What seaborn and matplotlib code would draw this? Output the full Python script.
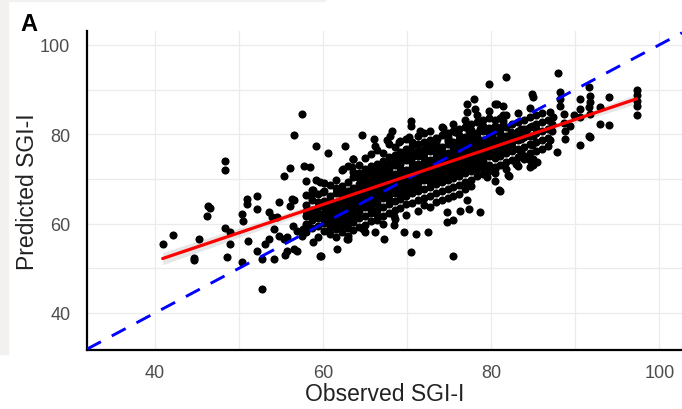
import matplotlib
matplotlib.use("Agg")
import matplotlib.pyplot as plt
from matplotlib.patches import Rectangle
from matplotlib.ticker import MultipleLocator
import seaborn as sns
import pandas as pd

# ---- data ----
# dense core: observed value columns and predicted values in each column
core_obs = [58.0, 58.7, 59.4, 60.1, 60.8, 61.5, 62.2, 62.9, 63.6, 64.3, 65.0, 65.7,
            66.4, 67.1, 67.8, 68.5, 69.2, 69.9, 70.6, 71.3, 72.0, 72.7, 73.4, 74.1,
            74.8, 75.5, 76.2, 76.9, 77.6, 78.3, 79.0, 79.7, 80.4, 81.1, 81.8, 82.5,
            83.2, 83.9, 84.6, 85.3, 86.0, 86.7]
core_pred = [
    [61.6, 59.8, 64.1, 58.2, 66.3, 62.9],
    [63.0, 60.7, 58.9, 65.2, 62.1, 67.4],
    [63.6, 61.3, 59.5, 62.4, 56.9, 66.7, 64.8],
    [65.1, 62.4, 60.2, 58.3, 67.2, 61.4, 63.7, 69.1],
    [63.9, 61.8, 59.3, 66.1, 57.6, 68.7, 60.8, 63.0, 65.3],
    [64.7, 62.6, 61.0, 58.7, 66.9, 69.8, 57.1, 63.8, 68.0, 60.1],
    [65.8, 63.4, 61.7, 59.6, 68.3, 58.2, 64.6, 71.9, 60.6, 67.0, 62.5],
    [65.0, 62.9, 61.4, 67.3, 59.1, 69.3, 64.1, 57.3, 72.8, 66.2, 60.3],
    [66.3, 63.8, 62.1, 67.9, 60.4, 70.4, 65.2, 58.5, 74.4, 64.7, 71.6, 61.2],
    [66.9, 65.0, 62.9, 68.9, 61.2, 71.4, 66.1, 59.2, 73.0, 63.8, 68.1, 70.2, 64.2],
    [67.6, 65.3, 63.6, 69.6, 61.6, 72.2, 66.6, 59.6, 74.6, 58.1, 64.6, 70.9, 68.3],
    [68.2, 66.3, 64.2, 70.3, 62.3, 72.9, 67.3, 60.5, 75.5, 65.2, 69.3, 63.1, 71.6],
    [68.9, 67.0, 64.7, 70.9, 63.1, 73.4, 67.9, 60.9, 76.4, 65.9, 72.1, 61.9, 69.8],
    [69.6, 67.6, 65.7, 71.8, 63.7, 74.1, 68.7, 61.7, 75.9, 66.6, 59.8, 72.9, 70.6],
    [70.4, 68.0, 66.3, 72.3, 64.3, 74.9, 69.2, 62.3, 77.7, 67.3, 73.3, 71.2, 65.2],
    [71.0, 68.8, 66.8, 73.0, 65.1, 75.4, 70.0, 63.0, 77.1, 67.9, 61.1, 74.1, 69.5],
    [71.5, 69.3, 67.5, 73.3, 65.6, 76.0, 70.6, 63.5, 78.5, 68.6, 74.5, 66.5, 72.4],
    [72.1, 70.3, 68.1, 74.2, 66.1, 76.6, 71.1, 64.3, 79.0, 69.1, 62.0, 75.3, 67.2],
    [72.7, 70.7, 68.5, 74.8, 66.8, 77.3, 71.7, 64.7, 78.2, 69.7, 75.7, 73.6, 67.6],
    [73.3, 71.2, 69.1, 75.2, 67.2, 77.7, 72.2, 65.3, 79.7, 70.2, 62.7, 76.3, 68.2],
    [73.8, 71.5, 69.7, 75.8, 67.7, 78.3, 72.8, 65.7, 80.2, 70.8, 76.8, 64.1, 74.6],
    [74.3, 72.2, 70.3, 76.3, 68.2, 78.8, 73.2, 66.2, 80.7, 71.3, 63.7, 77.5, 69.4],
    [74.8, 72.7, 70.7, 76.8, 68.8, 79.2, 73.8, 66.8, 78.1, 71.8, 64.8, 75.7, 69.9],
    [75.3, 73.2, 71.2, 77.2, 69.2, 79.8, 74.2, 67.2, 81.7, 72.2, 65.2, 76.2, 70.4],
    [75.8, 73.7, 71.7, 77.8, 69.7, 80.2, 74.7, 67.7, 79.3, 72.7, 65.7, 78.5, 70.9],
    [76.3, 74.2, 72.2, 78.2, 70.2, 80.8, 75.2, 68.2, 82.2, 73.3, 66.2, 77.2, 71.2],
    [76.8, 74.8, 72.7, 78.7, 70.7, 81.2, 75.8, 68.7, 79.8, 73.8, 66.7, 77.9, 71.9],
    [77.3, 75.2, 73.3, 79.3, 71.3, 81.7, 76.3, 69.3, 83.2, 74.3, 67.7, 78.3, 72.4],
    [77.8, 75.7, 73.8, 79.8, 71.8, 82.2, 76.8, 69.8, 80.9, 74.8, 68.3, 78.9, 72.9],
    [78.2, 76.3, 74.2, 80.3, 72.2, 82.8, 77.3, 70.7, 84.3, 75.3, 79.3, 73.4],
    [78.8, 76.7, 74.8, 80.8, 72.7, 83.2, 77.8, 71.2, 75.7, 81.9, 73.9],
    [79.3, 77.2, 75.2, 81.3, 73.2, 83.7, 78.3, 71.8, 85.2, 76.3, 80.2],
    [78.8, 76.7, 74.7, 80.8, 72.7, 83.2, 77.8, 71.3, 75.8, 81.9],
    [79.2, 77.3, 75.2, 81.2, 73.2, 83.7, 78.3, 76.3, 80.2],
    [79.7, 77.7, 75.8, 81.7, 73.8, 84.3, 78.8, 72.3, 76.8],
    [80.2, 78.2, 76.2, 82.3, 74.3, 79.3, 77.2],
    [80.7, 78.8, 76.7, 82.8, 74.8, 84.7, 79.7, 72.8],
    [81.2, 79.3, 77.2, 83.2, 75.2, 80.2],
    [81.7, 79.7, 77.8, 83.8, 75.8, 85.8, 74.3],
    [82.2, 80.2, 78.2, 84.3, 76.3, 81.1],
    [82.7, 80.7, 78.7, 84.8, 76.8],
    [83.2, 81.2, 79.2, 77.3],
]

# scattered points outside the core
sparse_obs = [
    40.9, 42.1, 45.2, 44.6, 44.6, 46.3, 46.5, 46.2, 48.3, 48.9, 48.9, 48.5, 50.3, 50.5,
    51.1, 50.3, 52.7, 52.1, 50.9, 52.1, 52.7, 53.1, 53.5, 53.9, 54.5, 54.7, 56.1, 56.5,
    54.1, 53.5, 54.1, 54.7, 55.3, 55.7, 55.7, 56.5, 56.9, 55.5, 56.4, 56.9, 57.5, 57.6,
    58.2, 59.6, 58.8,
    48.3, 48.3, 57.5, 56.5, 59.1, 60.6, 56.1, 57.7, 58.4, 55.3, 58.0, 59.2, 59.6, 58.8,
    60.0, 58.5, 50.9, 52.1, 56.3,
    79.7, 77.9, 77.1, 77.1, 78.1, 80.5, 70.4, 70.5, 71.7, 68.2, 64.6, 62.6, 62.4, 63.6,
    63.4, 66.0, 66.2, 67.6, 68.0, 69.0, 70.2, 74.3, 75.7, 77.3, 78.7, 73.5, 74.9, 81.7,
    71.5,
    88.0, 84.8, 85.0, 88.2, 88.2, 90.6, 91.6, 91.7, 94.0, 97.3, 97.3, 97.3, 97.3, 97.3,
    90.6, 91.6, 91.8, 93.0, 87.0, 87.4, 87.2, 88.2, 88.6, 93.0, 94.0, 91.6, 90.6, 87.8,
    87.0, 89.8, 90.6, 89.4, 81.4, 81.4, 81.4, 87.2, 88.6, 88.8, 88.8, 91.8, 91.8, 80.7,
    81.3, 80.1, 81.1, 82.3, 83.5, 83.6, 84.2, 84.8, 85.0, 84.8, 82.3, 83.5, 83.9, 85.0,
    85.0, 83.0,
    80.5, 81.5, 83.0, 84.6, 85.4, 80.5, 82.1, 81.1, 82.0, 79.5, 80.9,
    70.5, 75.5, 69.6, 71.0, 72.5, 67.2, 66.2, 64.8, 68.4, 63.0, 59.8, 61.6, 74.7, 75.5,
    76.3, 77.3, 78.7, 77.1, 74.7, 62.8, 68.4,
]
sparse_pred = [
    55.4, 57.5, 56.6, 52.4, 51.9, 64.0, 63.4, 61.7, 59.0, 58.1, 55.4, 52.5, 62.1, 60.6,
    56.2, 51.3, 45.4, 63.3, 64.4, 53.9, 52.1, 55.4, 62.5, 61.4, 61.4, 64.8, 64.0, 65.2,
    58.8, 56.6, 52.1, 57.3, 56.6, 57.0, 53.9, 54.3, 53.9, 53.0, 59.5, 58.4, 57.3, 58.8,
    59.5, 52.8, 55.9,
    74.1, 72.1, 84.5, 79.9, 77.3, 75.8, 72.4, 72.8, 72.6, 70.6, 69.5, 69.8, 69.2, 67.6,
    67.0, 66.2, 65.6, 66.1, 65.6,
    91.2, 87.9, 86.8, 84.9, 85.6, 86.8, 83.0, 81.9, 80.4, 80.8, 79.8, 77.4, 72.2, 74.5,
    72.6, 78.9, 77.4, 78.6, 79.7, 78.2, 79.3, 81.3, 80.4, 80.8, 81.2, 79.0, 79.0, 92.7,
    80.8,
    93.7, 89.0, 88.3, 89.4, 87.9, 87.9, 90.5, 88.6, 88.3, 89.8, 88.7, 87.5, 86.4, 84.3,
    85.6, 86.0, 84.5, 86.0, 84.9, 83.8, 82.3, 86.4, 84.5, 82.3, 82.1, 79.7, 77.5, 76.1,
    78.6, 84.2, 83.8, 81.9, 86.4, 84.2, 82.9, 80.8, 82.6, 80.8, 78.9, 79.3, 87.1, 86.8,
    81.9, 79.7, 78.6, 80.4, 81.2, 78.9, 81.2, 81.9, 79.7, 77.5, 76.7, 76.0, 74.5, 74.5,
    73.0, 73.3,
    72.2, 73.0, 73.7, 72.6, 73.7, 69.6, 70.6, 67.2, 70.8, 70.4, 67.4,
    53.6, 52.7, 58.1, 57.7, 58.2, 56.6, 58.1, 58.8, 59.6, 56.6, 52.7, 54.3, 60.3, 60.7,
    62.9, 63.3, 62.5, 65.2, 62.5, 56.6, 61.8,
]

x_ticks = [40, 60, 80, 100]
y_ticks = [40, 60, 80, 100]
x_title = "Observed SGI-I"
y_title = "Predicted SGI-I"
panel_label = "A"

# ---- build table ----
obs = []
pred = []
for xv, ys in zip(core_obs, core_pred):
    for yv in ys:
        obs.append(xv)
        pred.append(yv)
obs += sparse_obs
pred += sparse_pred
df = pd.DataFrame({"observed": obs, "predicted": pred})

# ---- plot ----
sns.set_theme(style="white")
plt.rcParams["font.family"] = ["Liberation Sans", "DejaVu Sans"]

fig = plt.figure(figsize=(6.82, 4.10), dpi=100)
fig.patch.set_facecolor("white")
fig.patches.append(Rectangle((0, 55 / 410), 8 / 682, 1 - 55 / 410,
                             transform=fig.transFigure, color="#f3f0f0", zorder=0))
fig.patches.append(Rectangle((0, 1 - 2 / 410), 325 / 682, 2 / 410,
                             transform=fig.transFigure, color="#f3f0f0", zorder=0))

ax = fig.add_axes([87 / 682, 1 - 351 / 410, 1 - 87 / 682, (351 - 32) / 410])
ax.set_facecolor("white")

sns.scatterplot(data=df, x="observed", y="predicted", ax=ax, color="black",
                s=34, linewidth=0, zorder=3)
ax.axline((40, 40), slope=1, color="#0000ff", lw=2.1, dashes=(5.4, 4.2), zorder=4)
# grey confidence band
sns.regplot(data=df, x="observed", y="predicted", ax=ax, scatter=False,
            color="0.35", line_kws=dict(alpha=0), ci=95)
# red fitted line
sns.regplot(data=df, x="observed", y="predicted", ax=ax, scatter=False,
            ci=None, color="#ff0000", line_kws=dict(lw=2.3, zorder=5))

ax.set_xlim(31.9, 102.7)
ax.set_ylim(31.7, 103.1)
ax.set_xticks(x_ticks)
ax.set_yticks(y_ticks)
ax.xaxis.set_minor_locator(MultipleLocator(10))
ax.yaxis.set_minor_locator(MultipleLocator(10))
ax.grid(True, which="both", color="#ebebeb", lw=0.9, zorder=0)
ax.set_axisbelow(True)

for s in ["top", "right"]:
    ax.spines[s].set_visible(False)
for s in ["left", "bottom"]:
    ax.spines[s].set_color("black")
    ax.spines[s].set_linewidth(1.6)

ax.tick_params(axis="both", which="major", length=7.5, width=1.2, color="#333333",
               labelsize=13, labelcolor="#4d4d4d")
ax.tick_params(axis="x", which="major", pad=2.5)
ax.tick_params(axis="y", which="major", pad=4.5)
ax.tick_params(which="minor", length=0)

ax.set_xlabel(x_title, fontsize=16.5, color="#222222", labelpad=1)
ax.set_ylabel(y_title, fontsize=16.5, color="#222222", labelpad=1)

fig.text(20 / 682, 1 - 13 / 410, panel_label, fontsize=17, fontweight="bold",
         va="top", ha="left", color="black")

fig.savefig("out.png", dpi=100)
